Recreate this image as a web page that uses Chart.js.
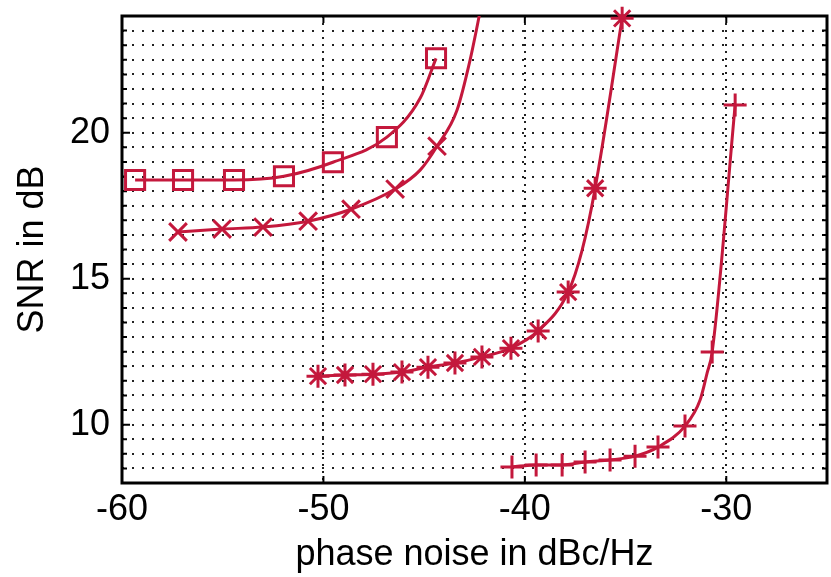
<!DOCTYPE html>
<html>
<head>
<meta charset="utf-8">
<script src="https://cdn.jsdelivr.net/npm/chart.js@4/dist/chart.umd.min.js"></script>
<style>
  html, body { margin: 0; padding: 0; background: #fff; }
</style>
</head>
<body>
<canvas id="snrCanvas" width="831" height="577"></canvas>
<script>
// square curve (markers + extra line-only points)
var sqX = [-59.35, -56.97, -54.44, -51.96, -49.53, -46.85, -44.41];
var sqY = [18.38, 18.38, 18.38, 18.51, 18.99, 19.85, 22.55];
var sqLineX = [-45.2];
var sqLineY = [21.18];

// x-mark curve
var xmX = [-57.22, -55.03, -53.0, -50.76, -48.63, -46.44, -44.36];
var xmY = [16.60, 16.70, 16.77, 16.97, 17.38, 18.07, 19.54];
var xmLineX = [-45.2, -43.37, -42.72, -42.27, -42.1];
var xmLineY = [18.72, 20.77, 22.49, 23.99, 24.6];

// star curve
var stX = [-50.27, -48.93, -47.54, -46.10, -44.81, -43.47, -42.13, -40.69, -39.34, -37.85, -36.51, -35.17];
var stY = [11.66, 11.70, 11.73, 11.80, 11.97, 12.11, 12.32, 12.62, 13.21, 14.54, 18.10, 23.92];
var stLineX = [-37.16];
var stLineY = [15.97];

// plus curve
var plX = [-40.64, -39.44, -38.15, -37.01, -35.77, -34.53, -33.39, -32.05, -30.70, -29.56];
var plY = [8.55, 8.62, 8.62, 8.72, 8.79, 8.92, 9.23, 9.95, 12.49, 20.95];
var plLineX = [-31.30, -30.95];
var plLineY = [10.84, 11.77];

var red = '#c4183c';

var toPoints = function (xs, ys) {
    var out = [];
    for (var i = 0; i < xs.length; i++) {
        out.push({ x: xs[i], y: ys[i] });
    }
    return out;
};

var linePoints = function (xs, ys, ex, ey) {
    var out = toPoints(xs, ys).concat(toPoints(ex, ey));
    out.sort(function (a, b) { return a.x - b.x; });
    return out;
};

var lineSet = function (data) {
    return {
        data: data,
        showLine: true,
        borderColor: red,
        borderWidth: 3,
        pointRadius: 0,
        fill: false,
        cubicInterpolationMode: 'monotone'
    };
};

var markerSet = function (data, style, radius) {
    return {
        data: data,
        showLine: false,
        pointStyle: style,
        pointRadius: radius,
        pointBorderColor: red,
        pointBackgroundColor: 'rgba(0,0,0,0)',
        pointBorderWidth: 3,
        clip: false
    };
};

var frame = {
    id: 'frame',
    beforeDatasetsDraw: function (chart) {
        var ctx = chart.ctx;
        var a = chart.chartArea;
        var xs = chart.scales.x;
        var ys = chart.scales.y;
        ctx.save();
        ctx.strokeStyle = '#000';
        ctx.lineWidth = 2;
        ctx.beginPath();
        xs.ticks.forEach(function (t) {
            var px = xs.getPixelForValue(t.value);
            ctx.moveTo(px, a.bottom);
            ctx.lineTo(px, a.bottom - 7);
            ctx.moveTo(px, a.top);
            ctx.lineTo(px, a.top + 7);
        });
        ys.ticks.forEach(function (t) {
            var py = ys.getPixelForValue(t.value);
            var len = t.value % 5 === 0 ? 8 : 5;
            ctx.moveTo(a.left, py);
            ctx.lineTo(a.left + len, py);
            ctx.moveTo(a.right, py);
            ctx.lineTo(a.right - len, py);
        });
        ctx.stroke();
        ctx.lineWidth = 3;
        ctx.strokeRect(a.left, a.top, a.right - a.left, a.bottom - a.top);
        ctx.restore();
    }
};

var font = { family: "'Liberation Sans', Arial, sans-serif", size: 36 };

var ctx = document.getElementById('snrCanvas').getContext('2d');
new Chart(ctx, {
    type: 'scatter',
    data: {
        datasets: [
            lineSet(linePoints(sqX, sqY, sqLineX, sqLineY)),
            lineSet(linePoints(xmX, xmY, xmLineX, xmLineY)),
            lineSet(linePoints(stX, stY, stLineX, stLineY)),
            lineSet(linePoints(plX, plY, plLineX, plLineY)),
            markerSet(toPoints(sqX, sqY), 'rect', 13.5),
            markerSet(toPoints(xmX, xmY), 'crossRot', 12.5),
            markerSet(toPoints(stX, stY), 'star', 11.5),
            markerSet(toPoints(plX, plY), 'cross', 11.5)
        ]
    },
    options: {
        responsive: false,
        animation: false,
        layout: { autoPadding: false, padding: { top: 16, right: 4, left: 0, bottom: 0 } },
        plugins: { legend: { display: false }, tooltip: { enabled: false } },
        scales: {
            x: {
                type: 'linear',
                min: -60,
                max: -25,
                afterFit: function (scale) {
                    scale.height = 94;
                    scale.paddingLeft = 0;
                    scale.paddingRight = 0;
                },
                ticks: {
                    stepSize: 10,
                    includeBounds: false,
                    color: '#000',
                    font: font,
                    padding: 5,
                    maxRotation: 0
                },
                grid: {
                    drawTicks: false,
                    lineWidth: 2,
                    color: function (c) { return c.tick && c.tick.value === -60 ? 'rgba(0,0,0,0)' : '#222'; }
                },
                border: { display: false, dash: [2, 5] },
                title: {
                    display: true,
                    text: 'phase noise in dBc/Hz',
                    color: '#000',
                    font: font,
                    padding: { top: 0, bottom: 0 }
                }
            },
            y: {
                min: 8,
                max: 24,
                afterFit: function (scale) {
                    scale.width = 122;
                    scale.paddingTop = 0;
                    scale.paddingBottom = 0;
                },
                ticks: {
                    stepSize: 0.5,
                    autoSkip: false,
                    color: '#000',
                    font: font,
                    padding: 12,
                    callback: function (v) { return v % 5 === 0 ? v : ''; }
                },
                grid: {
                    drawTicks: false,
                    lineWidth: 2,
                    color: '#222'
                },
                border: { display: false, dash: [2, 8] },
                title: {
                    display: true,
                    text: 'SNR in dB',
                    color: '#000',
                    font: font,
                    padding: { top: 11, bottom: 0 }
                }
            }
        }
    },
    plugins: [frame]
});
</script>
</body>
</html>
